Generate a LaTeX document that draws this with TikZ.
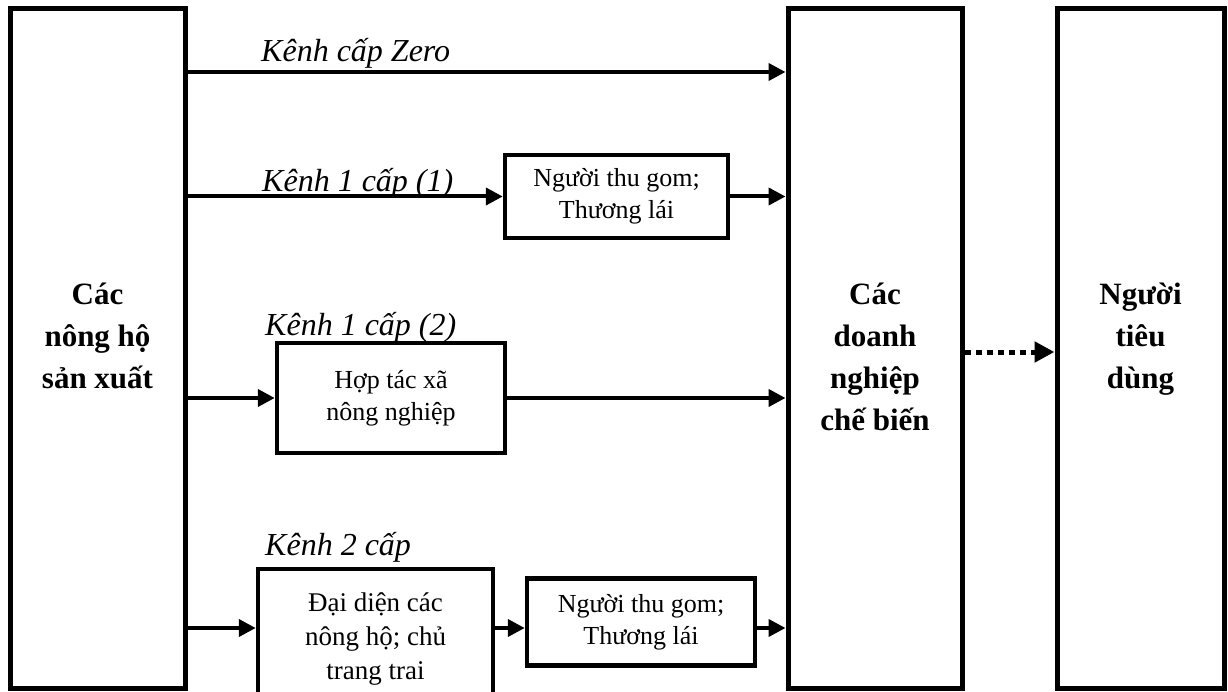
\documentclass[tikz,border=0pt]{standalone}
\usepackage{fontspec}
\setmainfont{Liberation Serif}
\usetikzlibrary{arrows.meta}

\begin{document}
\begin{tikzpicture}[x=1pt,y=-1pt,
  bigbox/.style={draw, line width=5pt, inner sep=0pt, minimum height=679pt},
  smallbox/.style={draw, line width=4.5pt, inner sep=0pt, align=center,
    font=\fontsize{26}{32}\selectfont},
  bigtext/.style={anchor=north, align=center, inner sep=0pt,
    font=\fontsize{31}{42}\selectfont\bfseries},
  chanlabel/.style={anchor=base west, inner sep=0pt,
    font=\fontsize{32}{36}\selectfont\itshape},
  flow/.style={line width=4pt, -{Triangle[length=17pt,width=17pt]}},
  dotflow/.style={line width=5pt, dash pattern=on 6pt off 5pt,
    -{Triangle[length=20pt,width=20pt]}}
]
\useasboundingbox (0,0) rectangle (1228,692);

% the three tall columns
\node[bigbox, minimum width=175pt] (A) at (97.5,348.5) {};
\node[bigbox, minimum width=174pt] (B) at (875,348.5) {};
\node[bigbox, minimum width=167pt] (C) at (1140.5,348.5) {};

\node[bigtext] (At) at (97.5,283) {Các\\nông hộ\\sản xuất};
\node[bigtext] (Bt) at (875,283) {Các\\doanh\\nghiệp\\chế biến};
\node[bigtext] (Ct) at (1140.5,283) {Người\\tiêu\\dùng};

% intermediaries
\node[smallbox, minimum width=223pt, minimum height=83pt] (P1) at (616.5,196.5) {Người thu gom;\\Thương lái};
\node[smallbox, minimum width=228pt, minimum height=110pt] (H) at (391,398) {Hợp tác xã\\nông nghiệp};
% this box runs past the lower edge of the sheet
\node[smallbox, minimum width=235pt, minimum height=140pt,
      font=\fontsize{27}{34}\selectfont] (D) at (375.5,639) {Đại diện các\\nông hộ; chủ\\trang trai};
\node[smallbox, minimum width=228pt, minimum height=87pt] (P2) at (641,622) {Người thu gom;\\Thương lái};

% channel names
\node[chanlabel] (L0) at (261,62) {Kênh cấp Zero};
\node[chanlabel] (L1) at (262,192) {Kênh 1 cấp (1)};
\node[chanlabel] (L2) at (265,335) {Kênh 1 cấp (2)};
\node[chanlabel] (L3) at (265,555) {Kênh 2 cấp};

% flows
\coordinate (zero) at (0,72);
\draw[flow] (A.east |- zero) -- (B.west |- zero);

\draw[flow] (A.east |- P1.west) -- (P1.west);
\draw[flow] (P1.east) -- (B.west |- P1.east);

\draw[flow] (A.east |- H.west) -- (H.west);
\draw[flow] (H.east) -- (B.west |- H.east);

\coordinate (two) at (0,628);
\draw[flow] (A.east |- two) -- (D.west |- two);
\draw[flow] (D.east |- two) -- (P2.west |- two);
\draw[flow] (P2.east |- two) -- (B.west |- two);

\coordinate (cons) at (0,352);
\draw[dotflow] (B.east |- cons) -- (C.west |- cons);
\end{tikzpicture}
\end{document}
